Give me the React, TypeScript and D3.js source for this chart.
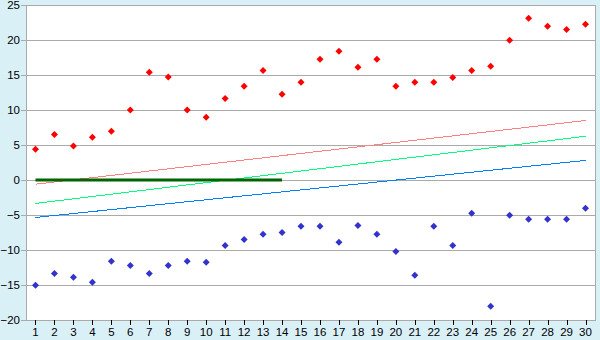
import React from "react";
import * as d3 from "d3";

const categories = Array.from({ length: 30 }, (_, i) => String(i + 1));
const redPoints = [4.4, 6.5, 4.85, 6.1, 6.95, 10.0, 15.4, 14.7, 10.0, 8.95, 11.65, 13.4, 15.65, 12.25, 13.95, 17.25, 18.4, 16.1, 17.25, 13.4, 13.95, 13.95, 14.65, 15.65, 16.25, 19.95, 23.1, 21.95, 21.5, 22.25];
const bluePoints = [-15.05, -13.35, -13.9, -14.6, -11.6, -12.2, -13.35, -12.2, -11.6, -11.75, -9.35, -8.5, -7.75, -7.5, -6.6, -6.6, -8.9, -6.5, -7.75, -10.2, -13.6, -6.6, -9.35, -4.75, -18.05, -5.05, -5.6, -5.6, -5.6, -4.05];
// trend lines: [value at first category, value at last category]
const redTrend = [-0.6, 8.5];
const greenTrend = [-3.35, 6.25];
const blueTrend = [-5.35, 2.8];
const zeroLine = { from: "1", to: "14", value: 0 };
const yTicks = [-20, -15, -10, -5, 0, 5, 10, 15, 20, 25];

export default function App() {
  const W = 600, H = 340;
  const left = 26, right = 595, top = 5, bottom = 320;
  const x = d3.scaleBand<string>().domain(categories).range([left, right]);
  const y = d3.scaleLinear().domain([-20, 25]).range([bottom, top]);
  const cx = (c: string) => (x(c) as number) + x.bandwidth() / 2;
  const first = categories[0], last = categories[categories.length - 1];
  const trend = (t: number[], color: string) => (
    <line x1={cx(first)} y1={y(t[0])} x2={cx(last)} y2={y(t[1])} stroke={color} strokeWidth={1} />
  );
  const diamond = "M0,-3.5L3.5,0L0,3.5L-3.5,0Z";
  return (
    <svg width={W} height={H} style={{ position: "absolute", left: 0, top: 0 }} fontFamily="Liberation Sans, Arial, sans-serif" fontSize={11.5}>
      <rect x={0} y={0} width={W} height={H} fill="#daf0f7" />
      <rect x={left} y={top} width={right - left} height={bottom - top} fill="#ffffff" />
      {yTicks.map((t) => (
        <g key={t}>
          <line x1={left - 5} x2={right} y1={y(t) + 0.5} y2={y(t) + 0.5} stroke="#aaaaaa" />
          <text x={20} y={y(t) + 4} textAnchor="end" fill="#000">{t < 0 ? "\u2212" + Math.abs(t) : String(t)}</text>
        </g>
      ))}
      <line x1={left + 0.5} x2={left + 0.5} y1={top} y2={bottom} stroke="#aaaaaa" />
      <line x1={right + 0.5} x2={right + 0.5} y1={top} y2={bottom + 1} stroke="#aaaaaa" />
      {categories.map((c) => (
        <g key={c}>
          <line x1={Math.round(cx(c)) + 0.5} x2={Math.round(cx(c)) + 0.5} y1={bottom} y2={bottom + 5} stroke="#000" />
          <text x={cx(c)} y={336} textAnchor="middle" fill="#000">{c}</text>
        </g>
      ))}
      <g shapeRendering="crispEdges">
        {trend(redTrend, "#ff8080")}
        {trend(greenTrend, "#00ff80")}
        {trend(blueTrend, "#0080ff")}
      </g>
      <line x1={cx(zeroLine.from)} x2={cx(zeroLine.to)} y1={y(zeroLine.value)} y2={y(zeroLine.value)} stroke="#006400" strokeWidth={3} />
      {redPoints.map((v, i) => (
        <path key={"r" + i} d={diamond} transform={`translate(${cx(categories[i])},${y(v)})`} fill="#ff0000" />
      ))}
      {bluePoints.map((v, i) => (
        <path key={"b" + i} d={diamond} transform={`translate(${cx(categories[i])},${y(v)})`} fill="#3333cc" />
      ))}
    </svg>
  );
}
